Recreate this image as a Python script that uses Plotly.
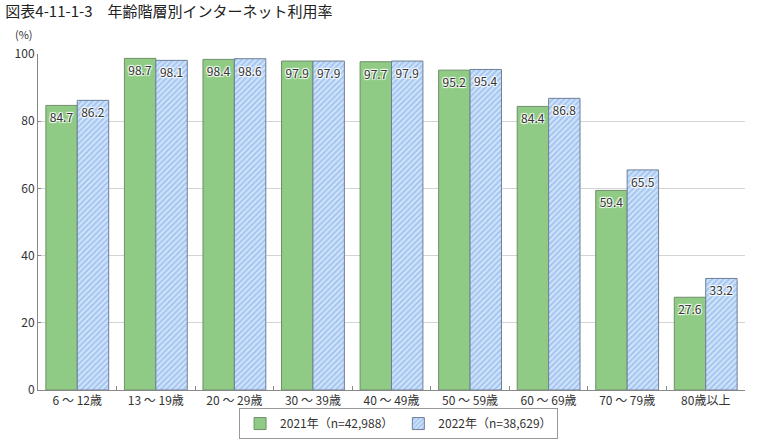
import plotly.graph_objects as go

categories = ["6 ～ 12歳", "13 ～ 19歳", "20 ～ 29歳", "30 ～ 39歳", "40 ～ 49歳", "50 ～ 59歳", "60 ～ 69歳", "70 ～ 79歳", "80歳以上"]
v2021 = [84.7, 98.7, 98.4, 97.9, 97.7, 95.2, 84.4, 59.4, 27.6]
v2022 = [86.2, 98.1, 98.6, 97.9, 97.9, 95.4, 86.8, 65.5, 33.2]
name2021 = "2021年（n=42,988）"
name2022 = "2022年（n=38,629）"
yticks = [0, 20, 40, 60, 80, 100]

FONT = "Noto Sans CJK JP"
labfont = dict(family=FONT, size=12, color="#333333",
               shadow="1px 1px 1px #fff, -1px -1px 1px #fff, 1px -1px 1px #fff, -1px 1px 1px #fff")

fig = go.Figure()
fig.add_trace(go.Bar(
    x=categories, y=v2021, name=name2021,
    marker=dict(color="#8fcb85", line=dict(color="#6f8f6a", width=1)),
    text=[f"{v:.1f}" for v in v2021], textposition="inside", insidetextanchor="end",
    textangle=0, textfont=labfont, cliponaxis=False,
))
fig.add_trace(go.Bar(
    x=categories, y=v2022, name=name2022,
    marker=dict(color="#ffffff", line=dict(color="#6d7f98", width=1),
                pattern=dict(shape="/", fgcolor="#74a6e8", bgcolor="#d2e4fa", size=4, solidity=0.5)),
    text=[f"{v:.1f}" for v in v2022], textposition="inside", insidetextanchor="end",
    textangle=0, textfont=labfont, cliponaxis=False,
))

fig.update_layout(
    width=762, height=442,
    margin=dict(l=38, r=17, t=54, b=52, autoexpand=False),
    paper_bgcolor="white", plot_bgcolor="white",
    barmode="group", bargap=0.2, bargroupgap=0,
    font=dict(family=FONT, size=12, color="#333333"),
    uniformtext=dict(minsize=12, mode="show"),
    title=dict(text="図表4-11-1-3　年齢階層別インターネット利用率", x=0.007, xanchor="left",
               y=0.985, yanchor="top", font=dict(family=FONT, size=15, color="#222222")),
    xaxis=dict(showline=True, linecolor="#888888", linewidth=1, ticks="inside", ticklen=4,
               tickcolor="#888888", tickson="boundaries", tickfont=dict(size=12, color="#333333")),
    yaxis=dict(range=[0, 100], tickvals=yticks, showgrid=True, gridcolor="#d4d4d4",
               showline=True, linecolor="#888888", linewidth=1, ticks="inside", ticklen=3,
               tickcolor="#888888", zeroline=False, tickfont=dict(size=12, color="#333333")),
    legend=dict(orientation="h", x=0.51, xanchor="center", y=-0.146, yanchor="bottom",
                bordercolor="#999999", borderwidth=1, font=dict(size=12, color="#333333"),
                traceorder="normal", tracegroupgap=0, itemwidth=30),
    annotations=[dict(text="(%)", xref="paper", yref="paper", x=-0.02, y=1.03,
                      xanchor="center", yanchor="bottom", showarrow=False,
                      font=dict(size=11, color="#333333"))],
)

fig.write_html("out.html")
